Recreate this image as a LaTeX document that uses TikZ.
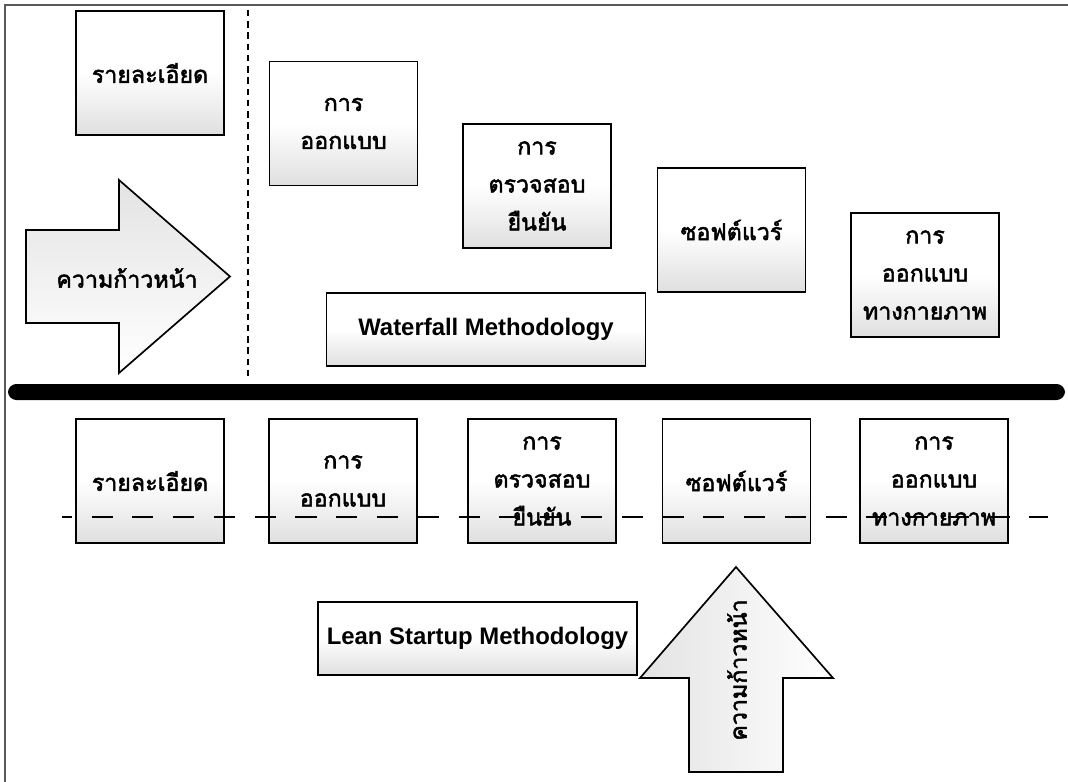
\documentclass[tikz,border=0pt]{standalone}
\usepackage{fontspec}
\setmainfont{Liberation Sans}
\newfontfamily\thaifont[Script=Thai, AutoFakeBold=2.2]{Loma}

\begin{document}
\begin{tikzpicture}[x=0.025cm, y=-0.025cm,
    etape/.style={draw, line width=1.2pt, minimum width=3.7cm, minimum height=3.1cm,
        align=center, inner sep=2pt, font=\thaifont\bfseries\fontsize{16.5}{27}\selectfont,
        top color=white, bottom color=gray!25, middle color=white},
    methode/.style={draw, line width=1.2pt, minimum width=7.98cm, minimum height=1.83cm,
        font=\bfseries\fontsize{17}{20}\selectfont,
        top color=white, bottom color=gray!25, middle color=white},
    fleche/.style={draw, line width=1.2pt, line join=miter}]
    % Cadre
    \useasboundingbox (0,0) rectangle (1068,782);
    \draw[black!65, line width=1.5pt](5,782) -- (5,5) -- (1068,5);

    % Waterfall
    \node[etape] (wfDetail) at (150,73) {รายละเอียด};
    \node[etape] (wfDesign) at (343.5,123.5) {การ\\ออกแบบ};
    \node[etape] (wfVerif) at (537,186) {การ\\ตรวจสอบ\\ยืนยัน};
    \node[etape] (wfSoft) at (731.5,230) {ซอฟต์แวร์};
    \node[etape] (wfPhys) at (925,275) {การ\\ออกแบบ\\ทางกายภาพ};
    \node[methode] (wfName) at (486,329.5) {Waterfall Methodology};

    \draw[fleche, top color=gray!22, bottom color=white]
        (26,230) -- (119,230) -- (119,180) -- (230,276.5) -- (119,373) -- (119,323) -- (26,323) -- cycle;
    \node[font=\thaifont\bfseries\fontsize{16.5}{20}\selectfont] (wfProgress) at (127,278) {ความก้าวหน้า};

    \draw[line width=1.3pt, dash pattern=on 4.5pt off 3.5pt](248,10) -- (248,380);

    % Barre
    \fill[rounded corners=6pt](8,384) rectangle (1065,400);

    % Lean Startup
    \node[etape] (lsDetail) at (150,481) {รายละเอียด};
    \node[etape] (lsDesign) at (343,481) {การ\\ออกแบบ};
    \node[etape] (lsVerif) at (542,481) {การ\\ตรวจสอบ\\ยืนยัน};
    \node[etape] (lsSoft) at (736.5,481) {ซอฟต์แวร์};
    \node[etape] (lsPhys) at (934,481) {การ\\ออกแบบ\\ทางกายภาพ};
    \node[methode] (lsName) at (477.5,638.5) {Lean Startup Methodology};

    \draw[line width=1.3pt, dash pattern=on 15pt off 14pt, dash phase=8pt](62,517) -- (1048,517);

    \draw[fleche, left color=gray!22, right color=white]
        (689,772) -- (689,678) -- (640,678) -- (736,567) -- (833,678) -- (783,678) -- (783,772) -- cycle;
    \node[rotate=90, font=\thaifont\bfseries\fontsize{16.5}{20}\selectfont] (lsProgress) at (737,670) {ความก้าวหน้า};
\end{tikzpicture}
\end{document}
